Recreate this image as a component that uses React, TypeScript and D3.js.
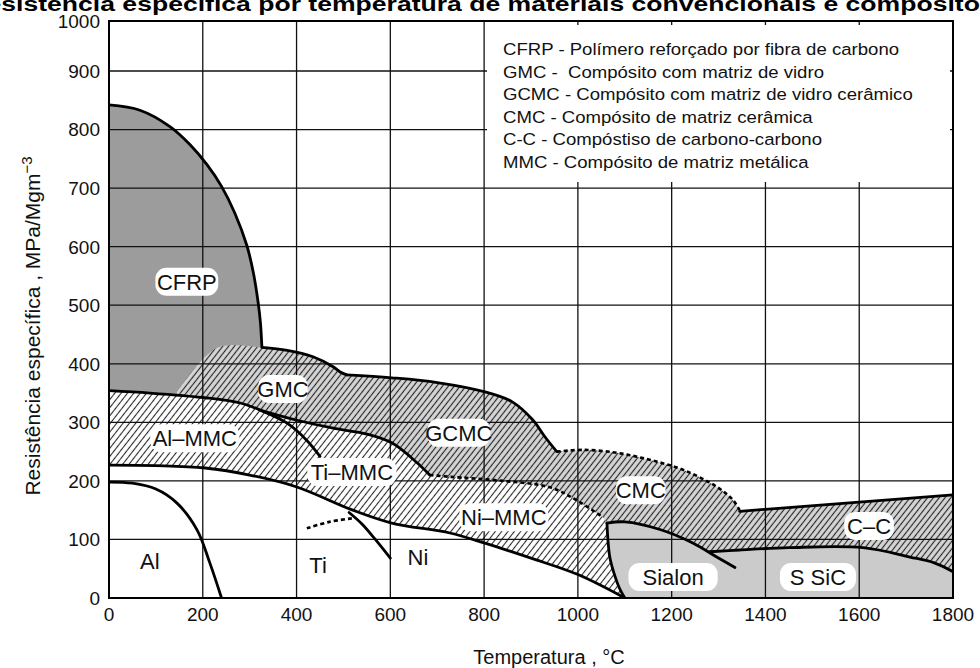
import React from "react";
import * as d3 from "d3";

const W = 980;
const H = 668;

const xTicks = [0, 200, 400, 600, 800, 1000, 1200, 1400, 1600, 1800];
const yTicks = [0, 100, 200, 300, 400, 500, 600, 700, 800, 900, 1000];

// region boundaries: [temperature °C, specific strength MPa/Mgm-3]
const cfrpEdge = [[0, 842], [66, 833], [130, 805], [173, 774], [209, 740], [240, 703], [268, 658], [294, 602], [308, 555], [318, 505], [323, 470], [326, 430]];
const gmcLeft = [[145, 352], [230, 427]];
const gmcTop = [[326, 428], [380, 423], [435, 412], [478, 395], [493, 386], [507, 381]];
const gcmcTop = [[507, 381], [603, 376], [700, 368], [802, 352], [860, 335], [904, 304], [930, 275], [955, 250]];
const cmcTop = [[955, 250], [1011, 253], [1083, 248], [1153, 236], [1224, 219], [1296, 190], [1330, 168], [1345, 150]];
const ccTop = [[1345, 148], [1800, 176]];
const alMmcTop = [[0, 354], [87, 350], [205, 342], [280, 333], [322, 321]];
const alMmcEnd = [[322, 321], [379, 299], [421, 270], [450, 242]];
const tiMmcTop = [[322, 321], [399, 304], [478, 290], [550, 280], [603, 265], [657, 231], [684, 210]];
const niMmcTop = [[684, 210], [727, 207], [840, 200], [940, 189], [997, 167], [1053, 138]];
const sialonEdge = [[1062, 128], [1064, 100], [1068, 70], [1076, 45], [1088, 18], [1100, 0]];
const mmcBottom = [[0, 227], [100, 226], [205, 222], [300, 210], [399, 190], [520, 150], [603, 128], [727, 111], [800, 94], [900, 68], [1000, 40], [1100, 0]];
const sialonTop = [[1062, 128], [1100, 130], [1175, 117], [1245, 94], [1296, 70], [1335, 52]];
const ssicTop = [[1281, 79], [1345, 82], [1450, 86], [1608, 86], [1708, 70], [1760, 60], [1800, 45]];
const alCurve = [[0, 198], [50, 196], [100, 186], [145, 162], [188, 116], [215, 60], [240, 0]];
const tiDashed = [[422, 119], [470, 130], [518, 136]];
const niCurve = [[512, 146], [540, 126], [568, 100], [600, 68]];

const regionLabels = [
  { text: "CFRP", t: 166, s: 540, box: true },
  { text: "GMC", t: 371, s: 357, box: true },
  { text: "Al\u2013MMC", t: 183, s: 273, box: true },
  { text: "GCMC", t: 746, s: 282, box: true },
  { text: "Ti\u2013MMC", t: 518, s: 215, box: true },
  { text: "Ni\u2013MMC", t: 842, s: 138, box: true },
  { text: "CMC", t: 1134, s: 184, box: true },
  { text: "C\u2013C", t: 1621, s: 123, box: true },
  { text: "Sialon", t: 1203, s: 36, box: true },
  { text: "S SiC", t: 1512, s: 36, box: true },
  { text: "Al", t: 87, s: 63, box: false },
  { text: "Ti", t: 446, s: 56, box: false },
  { text: "Ni", t: 659, s: 70, box: false },
];

const legendLines = [
  "CFRP - Polímero reforçado por fibra de carbono",
  "GMC -  Compósito com matriz de vidro",
  "GCMC - Compósito com matriz de vidro cerâmico",
  "CMC - Compósito de matriz cerâmica",
  "C-C - Compóstiso de carbono-carbono",
  "MMC - Compósito de matriz metálica",
];

const title = "Resistência específica por temperatura de materiais convencionais e compósitos";

const x = d3.scaleLinear().domain([0, 1800]).range([109, 953]);
const y = d3.scaleLinear().domain([0, 900, 1000]).range([598, 71, 21]);

const smooth = d3.curveCatmullRom.alpha(0.5);
const gen = (pts: number[][], c: d3.CurveFactory = smooth) =>
  d3.line<number[]>().x((d) => x(d[0])).y((d) => y(d[1])).curve(c)(pts) as string;
const join = (...parts: string[]) =>
  parts.map((p, i) => (i ? p.replace(/^M/, "L") : p)).join("") + "Z";
const rev = (a: number[][]) => [...a].reverse();

const font = "Liberation Sans, Arial, sans-serif";

export default function App() {
  const cfrpFill = join(gen(cfrpEdge), gen([[326, 430], [326, 300], [0, 300]], d3.curveLinear));
  const upperFill = join(
    gen([...gmcLeft, ...gmcTop]),
    gen(gcmcTop),
    gen(cmcTop),
    gen(ccTop, d3.curveLinear),
    gen([[1800, 176], [1800, 0], [145, 0]], d3.curveLinear)
  );
  const mmcFill = join(gen(alMmcTop), gen(tiMmcTop), gen(niMmcTop), gen(sialonEdge), gen(rev(mmcBottom)));
  const whiteFill = join(gen(mmcBottom), gen([[1100, 0], [0, 0]], d3.curveLinear));
  const ceramicFill = join(gen(rev(sialonEdge)), gen([...sialonTop.slice(0, 4), ...ssicTop]), gen([[1800, 45], [1800, 0], [1100, 0]], d3.curveLinear));

  const solid = [
    gen(cfrpEdge),
    gen(gmcTop),
    gen(gcmcTop),
    gen(ccTop, d3.curveLinear),
    gen([...alMmcTop, ...alMmcEnd.slice(1)]),
    gen(tiMmcTop),
    gen(mmcBottom),
    gen(sialonEdge),
    gen(sialonTop),
    gen(ssicTop),
    gen(alCurve),
    gen(niCurve),
  ];
  const dashed = [gen(cmcTop), gen(niMmcTop), gen(tiDashed)];

  const fs = 19;
  const lfs = 22;

  return (
    <svg width={W} height={H} style={{ display: "block", position: "absolute", left: 0, top: 0 }} fontFamily={font}>
      <defs>
        <pattern id="hatchW" width="5" height="5" patternUnits="userSpaceOnUse" patternTransform="rotate(38)">
          <rect width="5" height="5" fill="#ffffff" />
          <line x1="2.5" y1="0" x2="2.5" y2="5" stroke="#2a2a2a" strokeWidth="1.1" />
        </pattern>
        <pattern id="hatchG" width="4.6" height="4.6" patternUnits="userSpaceOnUse" patternTransform="rotate(38)">
          <rect width="4.6" height="4.6" fill="#d6d6d6" />
          <line x1="2.3" y1="0" x2="2.3" y2="4.6" stroke="#262626" strokeWidth="1.15" />
        </pattern>
        <clipPath id="plot">
          <rect x={x(0)} y={y(1000)} width={x(1800) - x(0)} height={y(0) - y(1000)} />
        </clipPath>
      </defs>
      <rect width={W} height={H} fill="#fff" />

      <g clipPath="url(#plot)">
        <path d={cfrpFill} fill="#9c9c9c" />
        <path d={upperFill} fill="url(#hatchG)" />
        <path d={mmcFill} fill="url(#hatchW)" />
        <path d={whiteFill} fill="#fff" />
        <path d={ceramicFill} fill="#cbcbcb" />

        {xTicks.slice(1, -1).map((t) => (
          <line key={"gx" + t} x1={x(t)} x2={x(t)} y1={y(0)} y2={y(1000)} stroke="#111" strokeWidth={1.3} />
        ))}
        {yTicks.slice(1, -1).map((t) => (
          <line key={"gy" + t} x1={x(0)} x2={x(1800)} y1={y(t)} y2={y(t)} stroke="#111" strokeWidth={1.3} />
        ))}

        {solid.map((d, i) => (
          <path key={"s" + i} d={d} fill="none" stroke="#000" strokeWidth={2.8} strokeLinecap="round" />
        ))}
        {dashed.map((d, i) => (
          <path key={"d" + i} d={d} fill="none" stroke="#000" strokeWidth={2.6} strokeDasharray="4 3" />
        ))}
      </g>

      {regionLabels.map((l) => {
        const w = l.text.length * lfs * 0.6 + 10;
        return (
          <g key={l.text} transform={`translate(${x(l.t)},${y(l.s)})`}>
            {l.box && <rect x={-w / 2} y={-14} width={w} height={28} rx={11} fill="#fff" />}
            <text textAnchor="middle" dy="0.36em" fontSize={lfs} fill="#111">
              {l.text}
            </text>
          </g>
        );
      })}

      <rect x={x(0)} y={y(1000)} width={x(1800) - x(0)} height={y(0) - y(1000)} fill="none" stroke="#000" strokeWidth={2} />

      <rect x={487} y={25} width={463} height={157} fill="#fff" />
      <g transform="translate(503,0) scale(1.14,1)" fontSize={16.3} fill="#111">
        {legendLines.map((t, i) => (
          <text key={t} x={0} y={55 + i * 22.6} xmlSpace="preserve" style={{ whiteSpace: "pre" }}>
            {t}
          </text>
        ))}
      </g>

      {yTicks.map((t) => (
        <text key={"yt" + t} x={x(0) - 9} y={y(t)} dy="0.36em" textAnchor="end" fontSize={fs} fill="#111">
          {t}
        </text>
      ))}
      {xTicks.map((t) => (
        <text key={"xt" + t} x={x(t)} y={621} textAnchor="middle" fontSize={fs} fill="#111">
          {t}
        </text>
      ))}

      <text x={549} y={664} textAnchor="middle" fontSize={20} fill="#111">
        Temperatura , °C
      </text>
      <text transform="translate(40,326) rotate(-90)" textAnchor="middle" fontSize={21} fill="#111">
        Resistência específica , MPa/Mgm
        <tspan dy="-8" fontSize={15}>−3</tspan>
      </text>

      <text transform="translate(481,11) scale(1.265,1)" textAnchor="middle" fontSize={21} fontWeight="bold" fill="#000">
        {title}
      </text>
    </svg>
  );
}
